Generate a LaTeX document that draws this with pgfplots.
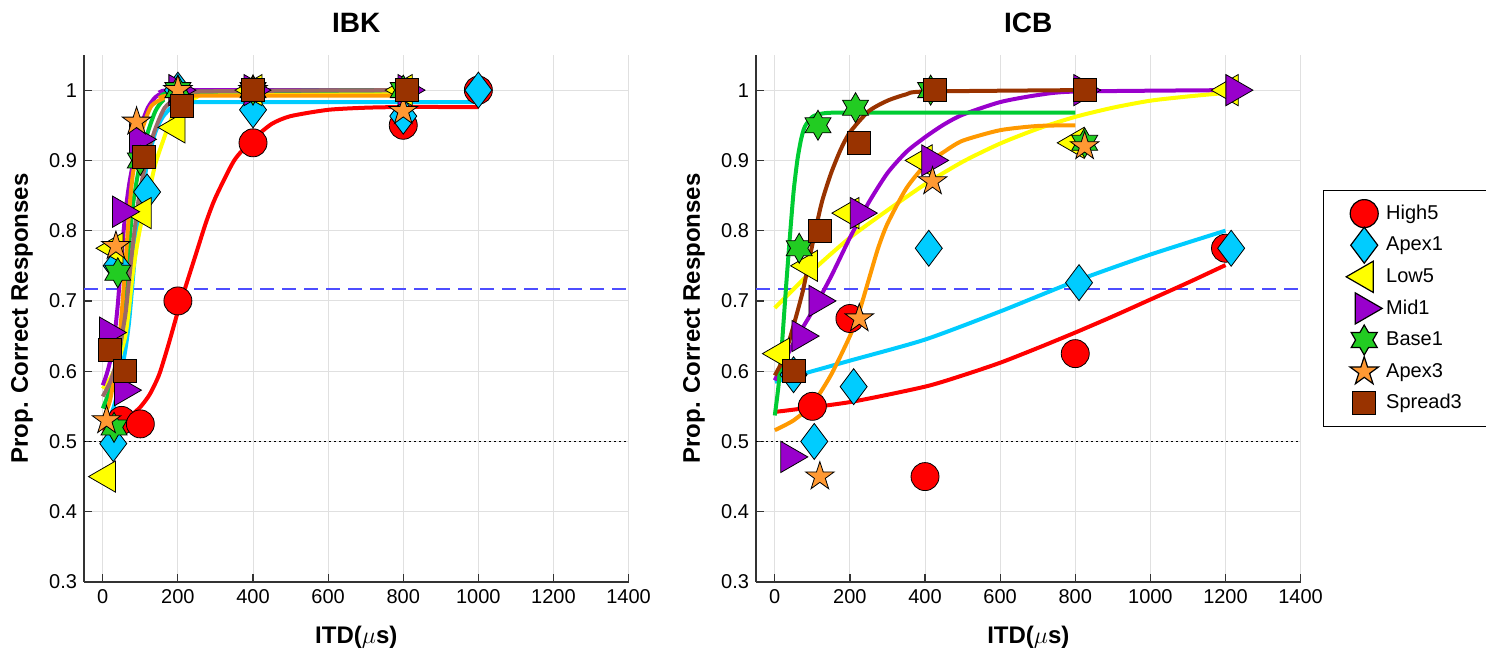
\documentclass[border=0pt]{standalone}
\usepackage{fontspec}
\setmainfont{Liberation Sans}
\usepackage{pgfplots}
\pgfplotsset{compat=1.18}

\definecolor{cRed}{RGB}{255,0,0}
\definecolor{cCyan}{RGB}{0,204,255}
\definecolor{cYel}{RGB}{255,255,0}
\definecolor{cPur}{RGB}{153,0,204}
\definecolor{cGrn}{RGB}{34,204,34}
\definecolor{cGrnL}{RGB}{0,204,51}
\definecolor{cOrg}{RGB}{255,153,51}
\definecolor{cOrgL}{RGB}{255,153,0}
\definecolor{cBrn}{RGB}{153,51,0}
\definecolor{cRose}{RGB}{155,105,105}
\definecolor{cRef}{RGB}{77,77,255}

% MATLAB style hexagram and pentagram
\pgfdeclareplotmark{hexa}{%
  \pgfpathmoveto{\pgfpointpolar{90}{\pgfplotmarksize}}%
  \pgfpathlineto{\pgfpointpolar{120}{0.577\pgfplotmarksize}}%
  \pgfpathlineto{\pgfpointpolar{150}{\pgfplotmarksize}}%
  \pgfpathlineto{\pgfpointpolar{180}{0.577\pgfplotmarksize}}%
  \pgfpathlineto{\pgfpointpolar{210}{\pgfplotmarksize}}%
  \pgfpathlineto{\pgfpointpolar{240}{0.577\pgfplotmarksize}}%
  \pgfpathlineto{\pgfpointpolar{270}{\pgfplotmarksize}}%
  \pgfpathlineto{\pgfpointpolar{300}{0.577\pgfplotmarksize}}%
  \pgfpathlineto{\pgfpointpolar{330}{\pgfplotmarksize}}%
  \pgfpathlineto{\pgfpointpolar{0}{0.577\pgfplotmarksize}}%
  \pgfpathlineto{\pgfpointpolar{30}{\pgfplotmarksize}}%
  \pgfpathlineto{\pgfpointpolar{60}{0.577\pgfplotmarksize}}%
  \pgfpathclose
  \pgfusepathqfillstroke
}
\pgfdeclareplotmark{penta}{%
  \pgfpathmoveto{\pgfpointpolar{90}{\pgfplotmarksize}}%
  \pgfpathlineto{\pgfpointpolar{126}{0.382\pgfplotmarksize}}%
  \pgfpathlineto{\pgfpointpolar{162}{\pgfplotmarksize}}%
  \pgfpathlineto{\pgfpointpolar{198}{0.382\pgfplotmarksize}}%
  \pgfpathlineto{\pgfpointpolar{234}{\pgfplotmarksize}}%
  \pgfpathlineto{\pgfpointpolar{270}{0.382\pgfplotmarksize}}%
  \pgfpathlineto{\pgfpointpolar{306}{\pgfplotmarksize}}%
  \pgfpathlineto{\pgfpointpolar{342}{0.382\pgfplotmarksize}}%
  \pgfpathlineto{\pgfpointpolar{18}{\pgfplotmarksize}}%
  \pgfpathlineto{\pgfpointpolar{54}{0.382\pgfplotmarksize}}%
  \pgfpathclose
  \pgfusepathqfillstroke
}

\pgfplotsset{
  panel/.style={
    width=272.3pt, height=263.5pt, scale only axis,
    xmin=-50, xmax=1400, ymin=0.3, ymax=1.05,
    xtick={0,200,...,1400},
    ytick={0.3,0.4,0.5,0.6,0.7,0.8,0.9,1},
    grid=major, major grid style={line width=0.5pt, black!12},
    axis x line*=bottom, axis y line*=left,
    axis line style={line width=0.6pt, black!80},
    tick align=inside, major tick length=4pt,
    tick style={black!80, line width=0.6pt},
    tick label style={font=\fontsize{10}{12}\selectfont},
    /pgf/number format/assume math mode=true,
    /pgf/number format/1000 sep={},
    xlabel={ITD($\mu$s)}, ylabel={Prop. Correct Responses},
    label style={font=\fontsize{12}{14}\selectfont\bfseries},
    xlabel style={at={(axis description cs:0.5,-0.104)}, anchor=center},
    ylabel style={at={(axis description cs:-0.114,0.5)}, anchor=center},
    title style={at={(axis description cs:0.5,1.038)}, anchor=center,
                 font=\fontsize{14}{16}\selectfont\bfseries},
  },
  mk/.style={only marks, mark options={draw=black!80, line width=0.4pt},
    legend image code/.code={\draw[mark repeat=2, mark phase=2, ##1]
      plot coordinates {(0pt,0pt) (8.5pt,0pt) (25.5pt,0pt)};}},
  sHigh/.style={mk, mark=*, mark size=7pt, mark options={fill=cRed}},
  sApex1/.style={mk, mark=diamond*, mark size=9pt, mark options={fill=cCyan}},
  sLow/.style={mk, mark=triangle*, mark size=9pt, mark options={fill=cYel, rotate=90}},
  sMid/.style={mk, mark=triangle*, mark size=9pt, mark options={fill=cPur, rotate=-90}},
  sBase/.style={mk, mark=hexa, mark size=7.5pt, mark options={fill=cGrn}},
  sApex3/.style={mk, mark=penta, mark size=7.5pt, mark options={fill=cOrg}},
  sSpread/.style={mk, mark=square*, mark size=5.75pt, mark options={fill=cBrn}},
  fit/.style={line width=2pt, smooth, tension=0.4, no marks, forget plot},
}

\begin{document}
\begin{tikzpicture}
\useasboundingbox (-42pt,-37pt) rectangle (701pt,291pt);

% ---------------- IBK ----------------
\begin{axis}[panel, title={IBK}]
\addplot[cRef, line width=0.6pt, dash pattern=on 7pt off 4pt, forget plot] coordinates {(-50,0.717) (1400,0.717)};
\addplot[black, line width=0.6pt, dash pattern=on 1pt off 1.5pt, forget plot] coordinates {(-50,0.5) (1400,0.5)};

\addplot[fit, cRed] coordinates {(0,0.515)(25,0.52)(50,0.528)(75,0.537)(100,0.549)(125,0.567)(150,0.595)(175,0.638)(200,0.685)(225,0.728)(250,0.77)(275,0.812)(300,0.847)(350,0.9)(400,0.93)(450,0.952)(500,0.963)(600,0.972)(700,0.975)(800,0.976)(900,0.976)(1000,0.976)};
\addplot[sHigh] coordinates {(50,0.53)(100,0.525)(200,0.70)(400,0.925)(800,0.95)(1000,1.0)};

\addplot[fit, cCyan] coordinates {(0,0.52)(20,0.535)(40,0.57)(60,0.63)(70,0.67)(80,0.73)(90,0.79)(100,0.835)(110,0.87)(120,0.9)(140,0.94)(160,0.962)(185,0.976)(220,0.982)(300,0.983)(1000,0.983)};
\addplot[sApex1] coordinates {(28,0.497)(37,0.75)(118,0.855)(200,1.0)(400,0.972)(800,0.963)(1000,1.0)};

\addplot[fit, cYel] coordinates {(0,0.575)(20,0.59)(40,0.612)(60,0.65)(70,0.69)(80,0.74)(90,0.775)(100,0.805)(120,0.848)(140,0.895)(160,0.927)(180,0.956)(205,0.978)(250,0.99)(300,0.994)(800,0.995)};
\addplot[sLow] coordinates {(10,0.45)(30,0.775)(105,0.825)(195,0.947)(400,1.0)(800,1.0)};

\addplot[fit, cPur] coordinates {(0,0.58)(10,0.595)(20,0.615)(30,0.645)(40,0.695)(50,0.765)(60,0.825)(70,0.865)(80,0.895)(90,0.925)(100,0.947)(120,0.975)(140,0.99)(160,0.996)(200,1.0)(800,1.0)};
\addplot[sMid] coordinates {(15,0.655)(55,0.573)(50,0.827)(95,0.93)(200,1.0)(400,1.0)(810,1.0)};

\addplot[fit, cGrnL] coordinates {(0,0.547)(20,0.575)(40,0.615)(50,0.65)(60,0.72)(70,0.78)(80,0.835)(90,0.87)(100,0.897)(120,0.94)(140,0.97)(160,0.985)(200,0.997)(800,1.0)};
\addplot[sBase] coordinates {(30,0.52)(40,0.74)(100,0.9)(200,1.0)(400,1.0)(800,1.0)};

\addplot[fit, cOrgL] coordinates {(0,0.53)(20,0.56)(40,0.625)(50,0.68)(60,0.75)(70,0.825)(80,0.88)(100,0.935)(115,0.96)(130,0.978)(160,0.988)(200,0.992)(800,0.992)};
\addplot[sApex3] coordinates {(10,0.53)(35,0.778)(90,0.955)(200,1.0)(400,1.0)(800,0.97)};

\addplot[fit, cRose] coordinates {(0,0.564)(20,0.585)(40,0.62)(60,0.68)(70,0.73)(80,0.78)(90,0.823)(100,0.86)(120,0.91)(140,0.945)(165,0.975)(200,0.99)(250,0.998)(800,1.0)};
\addplot[sSpread] coordinates {(20,0.63)(60,0.60)(110,0.905)(210,0.978)(400,1.0)(810,1.0)};
\end{axis}

% ---------------- ICB ----------------
\begin{axis}[panel, title={ICB}, at={(336pt,0pt)},
  legend cell align=left,
  legend style={at={(axis description cs:1,1)}, anchor=north west,
    xshift=11pt, yshift=-67.5pt, draw=black, line width=0.6pt, fill=white,
    font=\fontsize{10}{12}\selectfont,
    nodes={minimum height=19pt, inner ysep=0pt},
    row sep=-3.2pt, inner xsep=11.5pt, inner ysep=2pt}]
\addplot[cRef, line width=0.6pt, dash pattern=on 7pt off 4pt, forget plot] coordinates {(-50,0.717) (1400,0.717)};
\addplot[black, line width=0.6pt, dash pattern=on 1pt off 1.5pt, forget plot] coordinates {(-50,0.5) (1400,0.5)};

\addplot[fit, cRed] coordinates {(0,0.542)(200,0.556)(400,0.578)(500,0.594)(600,0.612)(700,0.633)(800,0.655)(900,0.678)(1000,0.702)(1100,0.726)(1200,0.751)};
\addplot[sHigh] coordinates {(100,0.55)(200,0.675)(400,0.45)(800,0.625)(1200,0.775)};
\addlegendentry{High5}

\addplot[fit, cCyan] coordinates {(0,0.585)(200,0.615)(400,0.645)(600,0.685)(800,0.728)(1000,0.766)(1200,0.80)};
\addplot[sApex1] coordinates {(50,0.595)(105,0.50)(210,0.578)(410,0.775)(810,0.726)(1215,0.775)};
\addlegendentry{Apex1}

\addplot[fit, cYel] coordinates {(0,0.69)(100,0.743)(200,0.79)(300,0.829)(400,0.866)(500,0.898)(600,0.924)(700,0.945)(800,0.962)(900,0.975)(1000,0.985)(1100,0.991)(1200,0.996)};
\addplot[sLow] coordinates {(15,0.625)(90,0.75)(200,0.825)(395,0.90)(800,0.925)(1210,1.0)};
\addlegendentry{Low5}

\addplot[fit, cPur] coordinates {(0,0.587)(50,0.64)(100,0.685)(150,0.735)(200,0.79)(250,0.84)(300,0.882)(350,0.912)(400,0.933)(450,0.951)(500,0.965)(600,0.983)(700,0.993)(800,0.998)(1200,1.0)};
\addplot[sMid] coordinates {(40,0.478)(70,0.65)(115,0.70)(225,0.825)(415,0.90)(820,1.0)(1225,1.0)};
\addlegendentry{Mid1}

\addplot[fit, cGrnL] coordinates {(0,0.537)(10,0.58)(20,0.645)(30,0.72)(40,0.79)(50,0.855)(60,0.90)(70,0.93)(80,0.948)(100,0.962)(130,0.967)(200,0.968)(800,0.968)};
\addplot[sBase] coordinates {(65,0.775)(115,0.95)(215,0.975)(415,1.0)(825,0.925)};
\addlegendentry{Base1}

\addplot[fit, cOrgL] coordinates {(0,0.516)(50,0.53)(100,0.553)(150,0.595)(200,0.65)(225,0.685)(250,0.73)(275,0.775)(300,0.81)(350,0.86)(400,0.893)(450,0.912)(500,0.928)(600,0.943)(700,0.949)(800,0.95)};
\addplot[sApex3] coordinates {(120,0.45)(225,0.675)(420,0.87)(825,0.92)};
\addlegendentry{Apex3}

\addplot[fit, cBrn] coordinates {(0,0.594)(25,0.62)(50,0.665)(75,0.715)(100,0.78)(125,0.84)(150,0.882)(175,0.915)(200,0.94)(250,0.97)(300,0.985)(350,0.994)(400,0.998)(800,1.0)};
\addplot[sSpread] coordinates {(50,0.60)(120,0.80)(225,0.925)(425,1.0)(825,1.0)};
\addlegendentry{Spread3}
\end{axis}
\end{tikzpicture}
\end{document}
